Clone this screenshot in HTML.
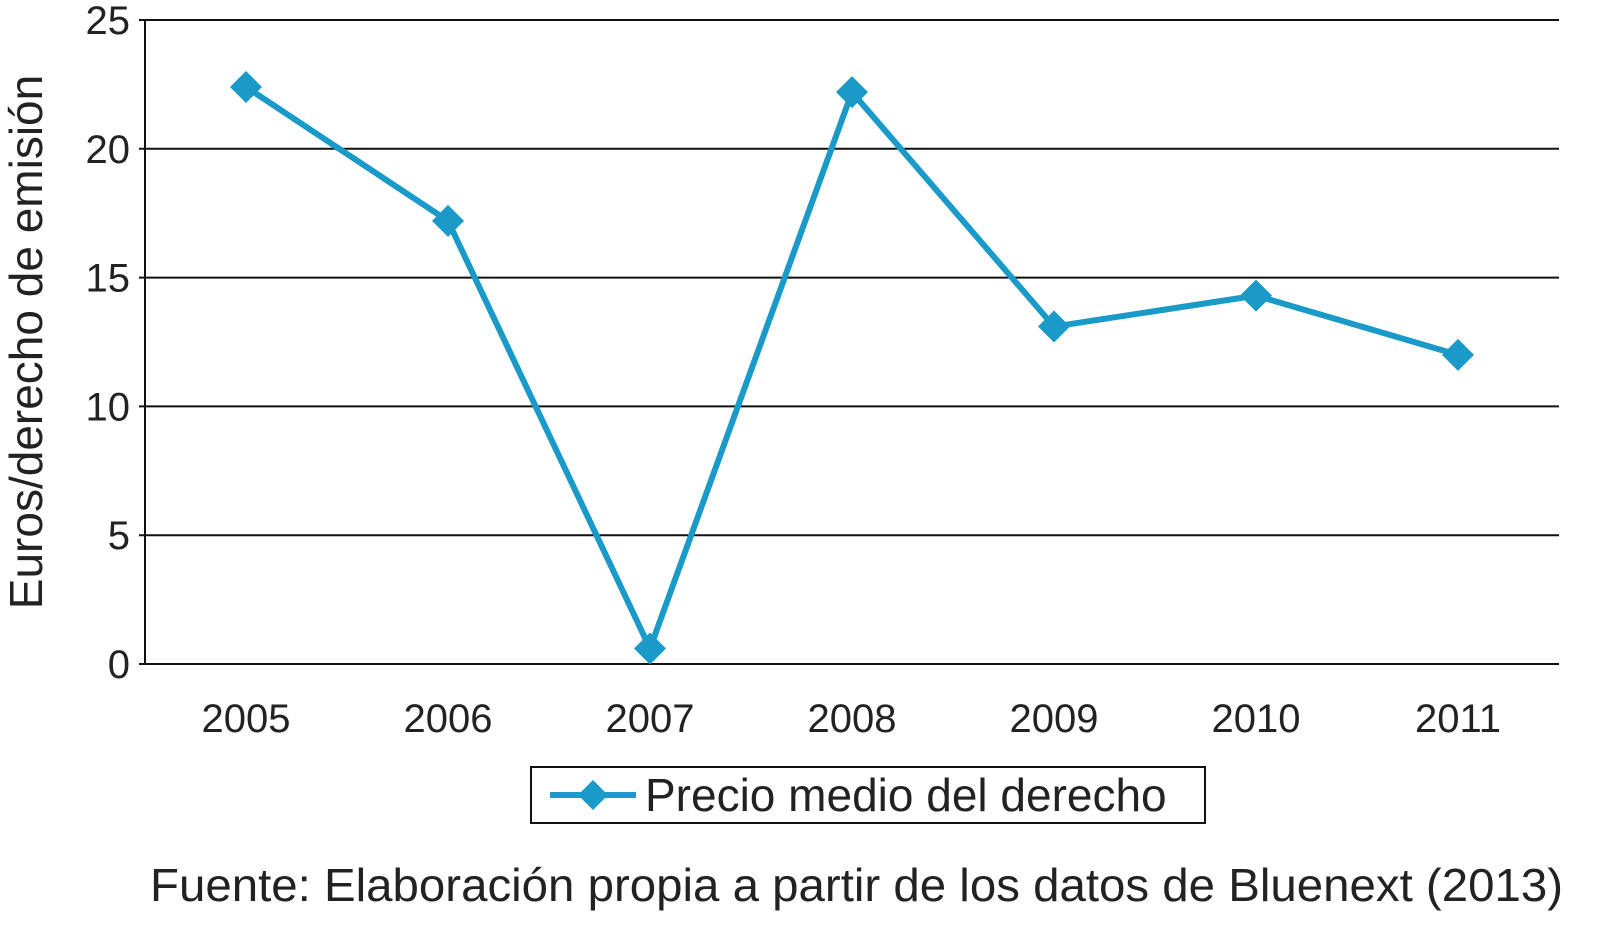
<!DOCTYPE html>
<html><head><meta charset="utf-8"><style>
html,body{margin:0;padding:0;background:#fff;}
svg{display:block;font-family:"Liberation Sans",Arial,sans-serif;}
</style></head><body>
<svg id="chart" width="1600" height="935" viewBox="0 0 1600 935">
<g id="grid"></g>
<g id="yticks"></g>
<g id="xticks"></g>
<g id="series"></g>
<text transform="translate(42,342) rotate(-90)" text-anchor="middle" font-size="46" fill="#222">Euros/derecho de emisión</text>
<g>
<rect x="531" y="767" width="674" height="56" fill="#fff" stroke="#111" stroke-width="2"/>
<line x1="550" y1="795" x2="636" y2="795" stroke="#1a9ac9" stroke-width="6"/>
<polygon points="593,780 608,795 593,810 578,795" fill="#1a9ac9"/>
<text x="645" y="811" font-size="46" fill="#222">Precio medio del derecho</text>
</g>
<text x="150" y="901" font-size="46" fill="#222" textLength="1413" lengthAdjust="spacingAndGlyphs">Fuente: Elaboración propia a partir de los datos de Bluenext (2013)</text>
</svg>
<script>
const categories=["2005","2006","2007","2008","2009","2010","2011"];
const values=[22.4,17.2,0.6,22.2,13.1,14.3,12.0];
const yTicks=[0,5,10,15,20,25];
const NS="http://www.w3.org/2000/svg";
const x0=145,x1=1559,yTop=20,yBot=664,yMax=25;
const band=(x1-x0)/categories.length;
function xs(i){return x0+band*(i+0.5);}
function ys(v){return yBot-(v/yMax)*(yBot-yTop);}
function mk(t,a,p){const e=document.createElementNS(NS,t);for(const k in a)e.setAttribute(k,a[k]);p.appendChild(e);return e;}
const grid=document.getElementById('grid'),yt=document.getElementById('yticks'),xt=document.getElementById('xticks'),ser=document.getElementById('series');
yTicks.forEach(v=>{
 const l=mk('line',{x1:x0-6,x2:x1,y1:ys(v),y2:ys(v),stroke:'#111','stroke-width':2},grid);
 
 
 const t=mk('text',{x:130,y:ys(v)+14,'text-anchor':'end','font-size':40,fill:'#222'},yt);
 t.textContent=v;
 
 
});
const ax=mk('line',{x1:x0,x2:x0,y1:yTop,y2:yBot,stroke:'#111','stroke-width':2},grid);


categories.forEach((c,i)=>{
 const t=mk('text',{x:xs(i),y:732,'text-anchor':'middle','font-size':40,fill:'#222'},xt);
 t.textContent=c;
 
 
});
const pl=mk('polyline',{points:values.map((v,i)=>xs(i)+','+ys(v)).join(' '),fill:'none',stroke:'#1a9ac9','stroke-width':6,'stroke-linejoin':'round'},ser);


values.forEach((v,i)=>{
 const x=xs(i),y=ys(v),r=16;
 const p=mk('polygon',{points:`${x},${y-r} ${x+r},${y} ${x},${y+r} ${x-r},${y}`,fill:'#1a9ac9'},ser);
 
 
});
</script>
</body></html>
